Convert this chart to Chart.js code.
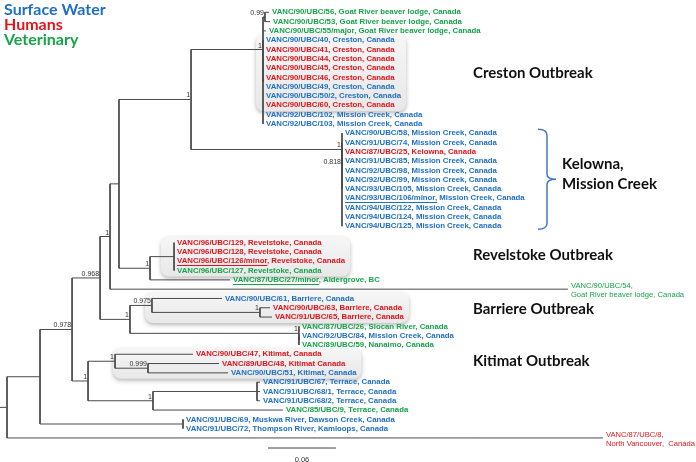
<!DOCTYPE html>
<html>
<head>
<meta charset="utf-8">
<script src="https://cdn.jsdelivr.net/npm/chart.js@4.4.1/dist/chart.umd.min.js"></script>
<style>
  html, body { margin: 0; padding: 0; background: #fff; }
  canvas { display: block; }
</style>
</head>
<body>
<canvas id="tree" width="696" height="462"></canvas>
<script>
// leaves, top to bottom
let leafNames = [
  'VANC/90/UBC/56, Goat River beaver lodge, Canada',
  'VANC/90/UBC/53, Goat River beaver lodge, Canada',
  'VANC/90/UBC/55/major, Goat River beaver lodge, Canada',
  'VANC/90/UBC/40, Creston, Canada',
  'VANC/90/UBC/41, Creston, Canada',
  'VANC/90/UBC/44, Creston, Canada',
  'VANC/90/UBC/45, Creston, Canada',
  'VANC/90/UBC/46, Creston, Canada',
  'VANC/90/UBC/49, Creston, Canada',
  'VANC/90/UBC/50/2, Creston, Canada',
  'VANC/90/UBC/60, Creston, Canada',
  'VANC/92/UBC/102, Mission Creek, Canada',
  'VANC/92/UBC/103, Mission Creek, Canada',
  'VANC/90/UBC/58, Mission Creek, Canada',
  'VANC/91/UBC/74, Mission Creek, Canada',
  'VANC/87/UBC/25, Kelowna, Canada',
  'VANC/91/UBC/85, Mission Creek, Canada',
  'VANC/92/UBC/98, Mission Creek, Canada',
  'VANC/92/UBC/99, Mission Creek, Canada',
  'VANC/93/UBC/105, Mission Creek, Canada',
  'VANC/93/UBC/106/minor, Mission Creek, Canada',
  'VANC/94/UBC/122, Mission Creek, Canada',
  'VANC/94/UBC/124, Mission Creek, Canada',
  'VANC/94/UBC/125, Mission Creek, Canada',
  'VANC/96/UBC/129, Revelstoke, Canada',
  'VANC/96/UBC/128, Revelstoke, Canada',
  'VANC/96/UBC/126/minor, Revelstoke, Canada',
  'VANC/96/UBC/127, Revelstoke, Canada',
  'VANC/87/UBC/27/minor, Aldergrove, BC',
  'VANC/90/UBC/54,\nGoat River beaver lodge, Canada',
  'VANC/90/UBC/61, Barriere, Canada',
  'VANC/90/UBC/63, Barriere, Canada',
  'VANC/91/UBC/65, Barriere, Canada',
  'VANC/87/UBC/26, Slocan River, Canada',
  'VANC/92/UBC/84, Mission Creek, Canada',
  'VANC/89/UBC/59, Nanaimo, Canada',
  'VANC/90/UBC/47, Kitimat, Canada',
  'VANC/89/UBC/48, Kitimat Canada',
  'VANC/90/UBC/51, Kitimat, Canada',
  'VANC/91/UBC/67, Terrace, Canada',
  'VANC/91/UBC/68/1, Terrace, Canada',
  'VANC/91/UBC/68/2, Terrace, Canada',
  'VANC/85/UBC/9, Terrace, Canada',
  'VANC/91/UBC/69, Muskwa River, Dawson Creek, Canada',
  'VANC/91/UBC/72, Thompson River, Kamloops, Canada',
  'VANC/87/UBC/8,\nNorth Vancouver,  Canada'
];
// S = surface water, H = humans, V = veterinary
let leafGroup = ('VVVSHHHHSS' + 'HSSSSHSSSS' + 'SSSSHHHVVV' + 'SHHVSVHHSS' + 'SSVSSH').split('');
let leafParent = [
  'P', 'P', 'Z', 'W', 'W', 'W', 'W', 'W', 'W', 'W', 'W', 'W', 'W',
  'K', 'K2', 'K3', 'K3', 'K3', 'K3', 'K3', 'K3', 'K3', 'K3', 'K3',
  'RevO', 'RevO', 'RevO', 'RevO', 'Rev', 'N4',
  'BarO', 'B2', 'B2', 'SNN', 'SNN2', 'SNN2',
  'Kit', 'K48', 'K48', 'T1', 'T1', 'T1', 'Ter', 'MT', 'MT', 'root'
];
// distance from root (substitutions per site)
let leafDepth = [
  0.2312, 0.2321, 0.2285, 0.2259, 0.2259, 0.2259, 0.2259, 0.2259, 0.2259, 0.2259, 0.2259, 0.2259, 0.2259,
  0.2956, 0.2956, 0.2956, 0.2956, 0.2956, 0.2956, 0.2956, 0.2956, 0.2956, 0.2956, 0.2956,
  0.1474, 0.1474, 0.1474, 0.1474, 0.1968, 0.4950,
  0.1897, 0.2321, 0.2338, 0.2576, 0.2576, 0.2576,
  0.1641, 0.1871, 0.1950, 0.2233, 0.2233, 0.2233, 0.2435, 0.1553, 0.1553, 0.5259
];
let underlined = { 20: 'VANC/93/UBC/106/minor,', 26: 'VANC/96/UBC/126/minor', 28: 'VANC/87/UBC/27/minor' };

// internal nodes
let nodeIds     = ['root', 'N1', 'N2', 'N3', 'N4', 'N5', 'A', 'Z', 'P', 'W', 'K', 'K2', 'K3', 'Rev', 'RevO', 'Bar', 'BarO', 'B2', 'SNN', 'SNN2', 'N6', 'Kit', 'K48', 'Ter', 'T1', 'MT'];
let nodeParent  = [null, 'root', 'N1', 'N2', 'N3', 'N4', 'N5', 'A', 'Z', 'Z', 'A', 'K', 'K2', 'N5', 'Rev', 'N3', 'Bar', 'BarO', 'Bar', 'SNN', 'N2', 'N6', 'Kit', 'N6', 'Ter', 'N1'];
let nodeDepth   = [0, 0.0291, 0.0574, 0.0821, 0.0909, 0.0988, 0.1624, 0.2259, 0.2276, 0.2259, 0.2956, 0.2956, 0.2956, 0.1262, 0.1474, 0.1085, 0.1279, 0.2232, 0.2576, 0.2576, 0.0715, 0.0953, 0.1244, 0.1288, 0.2206, 0.1553];
let nodeSupport = ['', '', '0.978', '0.968', '1', '', '1', '1', '0.99', '', '1', '0.818', '', '1', '', '1', '0.975', '1', '1', '', '1', '1', '0.999', '1', '', ''];

// outbreak boxes (leaf rows)
let cladeNames = ['Creston Outbreak', 'Revelstoke Outbreak', 'Barriere Outbreak', 'Kitimat Outbreak'];
let cladeFirst = [3, 24, 30, 36];
let cladeLast  = [10, 27, 32, 38];
let cladeLeft  = [0.2197, 0.1359, 0.1218, 0.0935];

let scaleBarLength = 0.06;

let colors = { S: '#1f6fc1', H: '#e0141c', V: '#17a34a' };
let legendLabels = ['Surface Water', 'Humans', 'Veterinary'];
let legendGroups = ['S', 'H', 'V'];

// layout
const gapRow = 24, gapSize = 0.77;
function rowOf(i) { return i + (i >= gapRow ? gapSize : 0); }

const nodeY = {}, nodeSpan = {};
function yOf(id) {
  if (nodeY[id] !== undefined) return nodeY[id];
  const ys = [];
  leafParent.forEach((p, i) => { if (p === id) ys.push(rowOf(i)); });
  nodeIds.forEach((n, k) => { if (nodeParent[k] === id) ys.push(yOf(n)); });
  nodeSpan[id] = [Math.min(...ys), Math.max(...ys)];
  nodeY[id] = (nodeSpan[id][0] + nodeSpan[id][1]) / 2;
  return nodeY[id];
}
const depthOf = id => nodeDepth[nodeIds.indexOf(id)];

const X_MIN = -0.0062, X_MAX = 0.608;
const branchPts = [];
function seg(x0, y0, x1, y1) {
  branchPts.push({ x: x0, y: y0 }, { x: x1, y: y1 }, { x: x1, y: null });
}
nodeIds.forEach((id, k) => {
  const y = yOf(id);
  if (nodeParent[k]) {
    const px = depthOf(nodeParent[k]);
    if (nodeDepth[k] > px) seg(px, y, nodeDepth[k], y);
  }
  seg(nodeDepth[k], nodeSpan[id][0], nodeDepth[k], nodeSpan[id][1]);
});
leafNames.forEach((n, i) => {
  const px = depthOf(leafParent[i]);
  if (leafDepth[i] > px) seg(px, rowOf(i), leafDepth[i], rowOf(i));
});
seg(X_MIN, yOf('root'), 0, yOf('root'));

const barRow = 46.85, barStart = 0.2303;

function roundRect(ctx, x, y, w, h, r) {
  ctx.beginPath();
  ctx.moveTo(x + r, y);
  ctx.arcTo(x + w, y, x + w, y + h, r);
  ctx.arcTo(x + w, y + h, x, y + h, r);
  ctx.arcTo(x, y + h, x, y, r);
  ctx.arcTo(x, y, x + w, y, r);
  ctx.closePath();
}

const LEAF_FONT = 'bold 7.8px "Liberation Sans", Arial, sans-serif';
const LONG_FONT = '7.6px "Liberation Sans", Arial, sans-serif';
const treeText = {
  id: 'treeText',
  beforeDatasetsDraw(chart) {
    const ctx = chart.ctx, xs = chart.scales.x, ys = chart.scales.y;
    ctx.save();
    ctx.font = LEAF_FONT;
    cladeNames.forEach((name, c) => {
      let right = 0;
      for (let i = cladeFirst[c]; i <= cladeLast[c]; i++) {
        right = Math.max(right, xs.getPixelForValue(leafDepth[i]) + 3 + ctx.measureText(leafNames[i]).width);
      }
      const left = xs.getPixelForValue(cladeLeft[c]);
      const top = ys.getPixelForValue(rowOf(cladeFirst[c])) - 6;
      const bottom = ys.getPixelForValue(rowOf(cladeLast[c])) + 6;
      ctx.save();
      ctx.shadowColor = 'rgba(0,0,0,0.28)';
      ctx.shadowBlur = 4;
      ctx.shadowOffsetY = 2;
      const g = ctx.createLinearGradient(0, top, 0, bottom);
      g.addColorStop(0, '#f6f6f6');
      g.addColorStop(1, '#e8e8e8');
      ctx.fillStyle = g;
      roundRect(ctx, left, top, right + 5 - left, bottom - top, 8);
      ctx.fill();
      ctx.restore();
    });
    ctx.restore();
  },
  afterDatasetsDraw(chart) {
    const ctx = chart.ctx, xs = chart.scales.x, ys = chart.scales.y;
    ctx.save();
    // leaf labels
    ctx.textBaseline = 'middle';
    ctx.textAlign = 'left';
    leafNames.forEach((name, i) => {
      const x = xs.getPixelForValue(leafDepth[i]) + 3;
      const y = ys.getPixelForValue(rowOf(i));
      ctx.fillStyle = colors[leafGroup[i]];
      const lines = name.split('\n');
      ctx.font = lines.length > 1 ? LONG_FONT : LEAF_FONT;
      lines.forEach((ln, j) => {
        const ly = lines.length > 1 ? y - 3 + j * 9 : y;
        ctx.fillText(ln, x, ly);
      });
      if (underlined[i]) {
        const w = ctx.measureText(underlined[i]).width;
        ctx.fillRect(x, Math.round(y + 4), w, 1);
      }
    });
    // support values
    ctx.font = '7px "Liberation Sans", Arial, sans-serif';
    ctx.fillStyle = '#333';
    ctx.textAlign = 'right';
    ctx.textBaseline = 'alphabetic';
    nodeIds.forEach((id, k) => {
      if (!nodeSupport[k]) return;
      ctx.fillText(nodeSupport[k], xs.getPixelForValue(nodeDepth[k]) - 1, ys.getPixelForValue(yOf(id)) - 2);
    });
    // scale bar label
    ctx.textAlign = 'center';
    ctx.font = '7.5px "Liberation Sans", Arial, sans-serif';
    ctx.fillText(String(scaleBarLength), xs.getPixelForValue(barStart + scaleBarLength / 2), ys.getPixelForValue(barRow) + 14);
    // outbreak names
    ctx.font = 'bold 15px Lato, "Open Sans", sans-serif';
    ctx.fillStyle = '#111';
    ctx.textAlign = 'left';
    ctx.textBaseline = 'middle';
    const labelX = xs.getPixelForValue(0.4112);
    const labelShift = [0, -0.2, 0.15, -0.3];
    cladeNames.forEach((name, c) => {
      const r = (rowOf(cladeFirst[c]) + rowOf(cladeLast[c])) / 2 + labelShift[c];
      ctx.fillText(name, labelX, ys.getPixelForValue(r));
    });
    // Kelowna / Mission Creek bracket
    const top = ys.getPixelForValue(13) - 4, bottom = ys.getPixelForValue(23) + 3;
    const mid = (top + bottom) / 2;
    const x0 = 538, x1 = 547, tip = 556;
    ctx.strokeStyle = '#3f78c0';
    ctx.lineWidth = 1.5;
    ctx.beginPath();
    ctx.moveTo(x0, top);
    ctx.quadraticCurveTo(x1, top, x1, top + 6);
    ctx.lineTo(x1, mid - 5);
    ctx.quadraticCurveTo(x1, mid, tip, mid);
    ctx.quadraticCurveTo(x1, mid, x1, mid + 5);
    ctx.lineTo(x1, bottom - 6);
    ctx.quadraticCurveTo(x1, bottom, x0, bottom);
    ctx.stroke();
    ctx.fillText('Kelowna,', 562, mid - 15);
    ctx.fillText('Mission Creek', 562, mid + 5);
    // legend
    ctx.font = 'bold 16px Lato, "Open Sans", sans-serif';
    legendLabels.forEach((t, i) => {
      ctx.fillStyle = colors[legendGroups[i]];
      ctx.fillText(t, 4, 10 + i * 15);
    });
    ctx.restore();
  }
};

new Chart(document.getElementById('tree').getContext('2d'), {
  type: 'scatter',
  data: {
    datasets: [{
      data: branchPts,
      showLine: true,
      spanGaps: false,
      borderColor: '#4a4a4a',
      borderWidth: 1,
      pointRadius: 0
    }, {
      data: [{ x: barStart, y: barRow }, { x: barStart + scaleBarLength, y: barRow }],
      showLine: true,
      borderColor: '#444',
      borderWidth: 1,
      pointRadius: 0
    }]
  },
  options: {
    responsive: false,
    animation: false,
    layout: { padding: 0 },
    scales: {
      x: { type: 'linear', min: X_MIN, max: X_MAX, display: false },
      y: { type: 'linear', min: -1.3226, max: 48.355, reverse: true, display: false }
    },
    plugins: {
      legend: { display: false },
      tooltip: { enabled: false }
    }
  },
  plugins: [treeText]
});
</script>
</body>
</html>
